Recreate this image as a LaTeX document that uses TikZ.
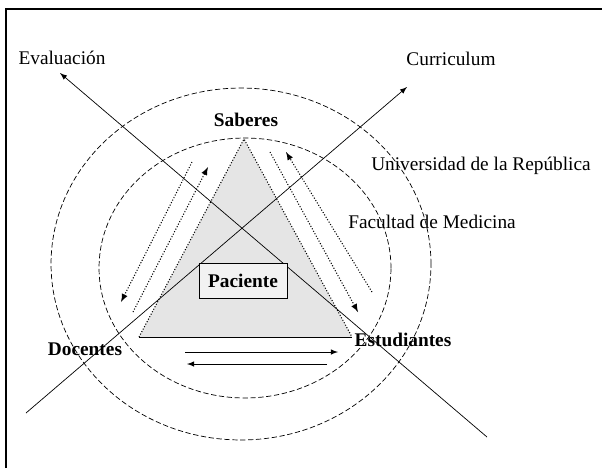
\documentclass[tikz,border=0pt]{standalone}
\usepackage{fontspec}
\setmainfont{Liberation Serif}
\usetikzlibrary{arrows}

\begin{document}
\begin{tikzpicture}[x=0.02cm, y=-0.02cm, >=latex,
  font=\fontsize{11}{13}\selectfont,
  ring/.style={dash pattern=on 3pt off 1.5pt, thin},
  dotarrow/.style={densely dotted, semithick},
  bold/.style={font=\fontsize{11}{13}\selectfont\bfseries}]
\useasboundingbox (0,0) rectangle (602,468);
\draw [line width=1.3pt] (6,468) -- (6,9) -- (602,9);

% rings
\draw [ring] (241,264) ellipse [x radius=3.8cm, y radius=3.52cm];
\draw [ring] (245,268) ellipse [x radius=2.92cm, y radius=2.6cm];

% triangle
\coordinate (top) at (244,139);
\coordinate (bl) at (139,337);
\coordinate (br) at (352,337);
\fill [gray!20] (top) -- (bl) -- (br) -- cycle;
\draw [densely dotted, semithick] (bl) -- (top) -- (br);
\draw (bl) -- (br);

\node [bold] (saberes) at (246,120) {Saberes};
\node [bold] (docentes) at (85,349) {Docentes};
\node [bold] (estudiantes) at (403,340) {Estudiantes};
\node (evaluacion) at (62,58) {Evaluación};
\node (curriculum) at (451,59) {Curriculum};
\node (udelar) at (481,166) {Universidad de la República};
\node (fmed) at (432,222) {Facultad de Medicina};

% long axes
\coordinate (eva) at (60,73);
\coordinate (evb) at (487,437);
\coordinate (cua) at (407,87);
\coordinate (cub) at (26,413);
\draw [<-] (eva) -- (evb);
\draw [<-] (cua) -- (cub);

\node [draw, fill=gray!10, minimum width=1.76cm, minimum height=0.7cm, bold] (paciente) at (243,281) {Paciente};

% exchange under the base
\coordinate (h1) at (185,352);
\coordinate (h2) at (338,352);
\coordinate (h3) at (327,364);
\coordinate (h4) at (187,364);
\draw [->] (h1) -- (h2);
\draw [->] (h3) -- (h4);

% dotted arrows along the sides
\coordinate (l1) at (192,162);
\coordinate (l2) at (121,302);
\coordinate (l3) at (133,312);
\coordinate (l4) at (208,167);
\draw [dotarrow, ->] (l1) -- (l2);
\draw [dotarrow, ->] (l3) -- (l4);
\coordinate (r1) at (270,152);
\coordinate (r2) at (358,312);
\coordinate (r3) at (372,292);
\coordinate (r4) at (286,152);
\draw [dotarrow, ->] (r1) -- (r2);
\draw [dotarrow, ->] (r3) -- (r4);
\end{tikzpicture}
\end{document}
